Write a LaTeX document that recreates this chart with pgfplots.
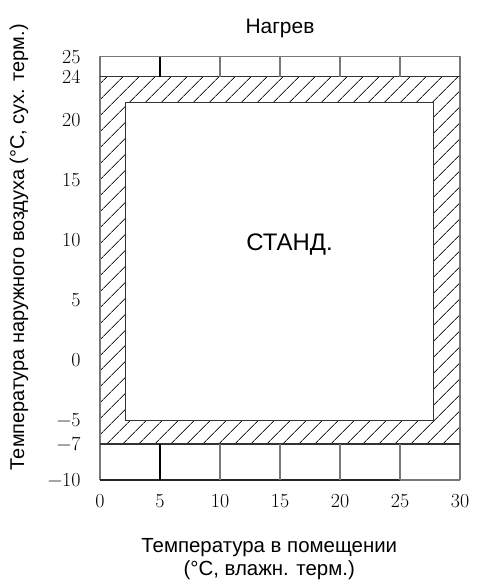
\documentclass[border=0pt]{standalone}
\usepackage{fontspec}
\setmainfont{Liberation Sans}
\newfontfamily\lmr{Latin Modern Roman}
\usepackage{pgfplots}
\pgfplotsset{compat=1.18}
\usetikzlibrary{patterns.meta}
\definecolor{frame}{RGB}{120,120,120}
\begin{document}
\begin{tikzpicture}
\useasboundingbox (-100bp,-105bp) rectangle (380bp,480bp);
\begin{axis}[
  scale only axis, width=360bp, height=423.3bp,
  xmin=0, xmax=30, ymin=-10, ymax=25,
  y coord trafo/.code={\pgfmathparse{(#1>24)?(23.61+(#1-24)*1.67):((#1>20)?(20+(#1-20)*0.9025):(#1))}},
  xtick={0,5,10,15,20,25,30},
  xticklabels={0,5,10,15,20,25,30},
  ytick={-10,-7,-5,0,5,10,15,20,24,25},
  yticklabels={−10,−7,−5,0,5,10,15,20,24,25},
  major tick length=0pt,
  axis line style={draw=none},
  every tick label/.append style={font=\lmr\fontsize{20}{20}\selectfont},
  yticklabel style={xshift=-16bp},
  xticklabel style={yshift=-11bp},
  title={Нагрев},
  title style={at={(axis description cs:0.5,1)}, anchor=center, yshift=22bp, font=\fontsize{21}{24}\selectfont},
  xlabel={Температура в помещении\\(°C, влажн. терм.)},
  xlabel style={at={(axis description cs:0.47,0)}, anchor=center, yshift=-79bp, align=center, font=\fontsize{20.5}{23}\selectfont},
  ylabel={Температура наружного воздуха (°C, сух. терм.)},
  ylabel style={at={(axis description cs:0,0.55)}, anchor=center, yshift=81bp, font=\fontsize{20}{24}\selectfont},
  clip=false,
]
% hatched operating band
\addplot[draw=none, pattern={Lines[angle=45,distance=11.8bp,line width=0.8bp]}, pattern color=black!85]
  coordinates {(0,-7) (30,-7) (30,24) (0,24)} --cycle;
% standard (inner) region
\addplot[fill=white, draw=black!80, line width=1bp]
  coordinates {(2.1,-5) (27.8,-5) (27.8,21.6) (2.1,21.6)} --cycle;
% outer frame
\addplot[draw=frame, line width=1.3bp] coordinates {(0,-10) (0,25) (30,25) (30,-10)};
\addplot[draw=black!85, line width=1.3bp] coordinates {(0,-10) (25,-10)};
\addplot[draw=frame, line width=1.3bp] coordinates {(25,-10) (30,-10)};
\addplot[draw=black!80, line width=1.1bp] coordinates {(0,24) (30,24)};
\addplot[draw=black!80, line width=1.1bp] coordinates {(0,-7) (30,-7)};
% band dividers
\addplot[draw=black, line width=1.6bp] coordinates {(5,24) (5,25)};
\addplot[draw=black, line width=1.6bp] coordinates {(5,-10) (5,-7)};
\foreach \xx in {10,15,20,25} {
  \edef\tmp{\noexpand\addplot[draw=frame, line width=1.3bp] coordinates {(\xx,24) (\xx,25)};
  \noexpand\addplot[draw=frame, line width=1.3bp] coordinates {(\xx,-10) (\xx,-7)};}
  \tmp
}
\node[font=\fontsize{24}{28}\selectfont] at (axis cs:15.8,9.6) {СТАНД.};
\end{axis}
\end{tikzpicture}
\end{document}
